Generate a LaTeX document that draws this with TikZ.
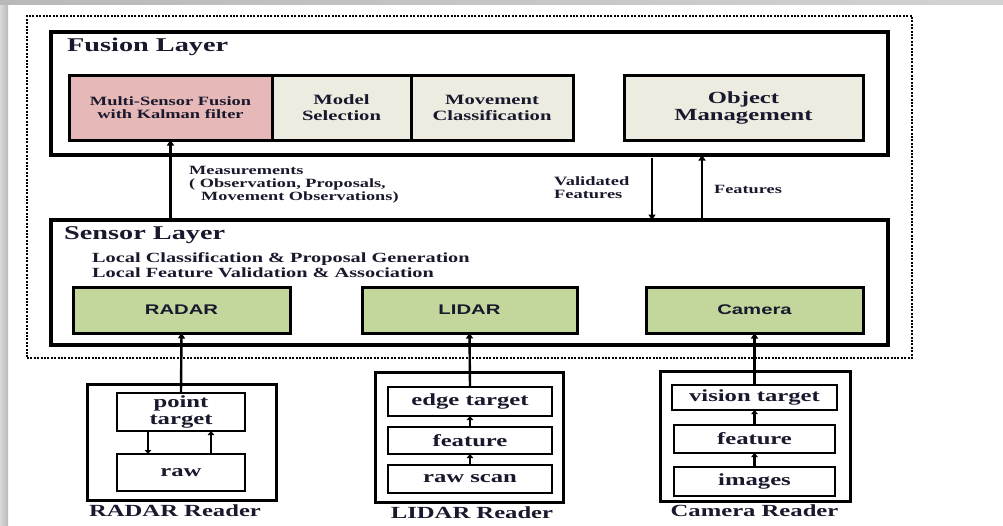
\documentclass[tikz,border=0pt]{standalone}
\usepackage{fontspec}
\setmainfont{Liberation Serif}[FakeStretch=1.45]
\setsansfont{Liberation Sans}[FakeStretch=1.45]
\usetikzlibrary{arrows.meta,calc}
\definecolor{pinkf}{RGB}{230,184,183}
\definecolor{beigef}{RGB}{238,236,225}
\definecolor{greenf}{RGB}{195,214,155}
\definecolor{txt}{RGB}{25,25,45}
\begin{document}
\begin{tikzpicture}[x=1pt,y=-1pt,
  layerbox/.style={draw, line width=3.2pt, inner sep=0pt, outer sep=0pt},
  fusbox/.style={draw, line width=3pt, inner sep=0pt, outer sep=0pt, text=txt, align=center, minimum height=65pt},
  sensbox/.style={draw, line width=3pt, inner sep=0pt, outer sep=0pt, fill=greenf, text=txt, font=\sffamily\bfseries\fontsize{14}{16}\selectfont, minimum height=46pt},
  readbox/.style={draw, line width=3pt, inner sep=0pt, outer sep=0pt},
  stagebox/.style={draw, line width=2.8pt, inner sep=0pt, outer sep=0pt, text=txt, align=center, font=\bfseries\fontsize{17}{17}\selectfont},
  lbl/.style={inner sep=0pt, text=txt, align=left},
  readlbl/.style={inner sep=0pt, text=txt, font=\bfseries\fontsize{17}{17}\selectfont},
  arr/.style={line width=2.4pt, -{Triangle[length=5.5pt,width=7pt]}},
  sarr/.style={line width=2.2pt, -{Triangle[length=4pt,width=6.5pt]}}
]
\useasboundingbox (0,0) rectangle (1003,525);
\fill[white] (0,0) rectangle (1003,525);
% screenshot shadow strips
\shade[left color=gray!30, right color=gray!55] (0,0) rectangle (8,525);
\shade[left color=gray!55, right color=gray!35] (0,0) rectangle (1003,4);

% outer dotted frame
\node[draw, line width=2.6pt, dash pattern=on 2pt off 1.4pt, inner sep=0pt, minimum width=885pt, minimum height=342pt] (outer) at (469.5,187) {};

% Fusion layer
\node[layerbox, minimum width=837pt, minimum height=123pt] (fusion) at (469.5,93.5) {};
\node[lbl, anchor=west, font=\bfseries\fontsize{19.5}{22}\selectfont] (fustitle) at (67,47) {Fusion Layer};
\node[fusbox, fill=pinkf, minimum width=203pt, font=\bfseries\fontsize{12.7}{13.5}\selectfont] (multi) at (170.5,107.5) {Multi-Sensor Fusion\\with Kalman filter};
\node[fusbox, fill=beigef, minimum width=139pt, font=\bfseries\fontsize{14.2}{16}\selectfont] (model) at (341.5,107.5) {Model\\Selection};
\node[fusbox, fill=beigef, minimum width=162pt, font=\bfseries\fontsize{14.2}{16}\selectfont] (movement) at (492,107.5) {Movement\\Classification};
\node[fusbox, fill=beigef, minimum width=239pt, font=\bfseries\fontsize{17}{17}\selectfont] (object) at (743.5,107.5) {Object\\Management};

% Sensor layer
\node[layerbox, minimum width=837pt, minimum height=125pt] (sensor) at (469.5,282.5) {};
\node[lbl, anchor=west, font=\bfseries\fontsize{19.5}{22}\selectfont] (senstitle) at (64,235) {Sensor Layer};
\node[lbl, anchor=west, font=\bfseries\fontsize{14}{14.5}\selectfont] (local) at (92,265) {Local Classification \& Proposal Generation\\Local Feature Validation \& Association};
\node[sensbox, minimum width=217pt] (radar) at (181.5,310) {RADAR};
\node[sensbox, minimum width=215pt] (lidar) at (469.5,310) {LIDAR};
\node[sensbox, minimum width=217pt] (camera) at (754.5,310) {Camera};

% links between layers
\draw[arr] (multi.south |- sensor.north) -- (multi.south);
\node[lbl, anchor=north west, font=\bfseries\fontsize{12.6}{13}\selectfont] (meas) at (189,166) {Measurements\\( Observation, Proposals,\\\hspace*{12pt}Movement Observations)};
\coordinate (vf) at (652,155);
\coordinate (ft) at (702,155);
\draw[arr] ($(fusion.south -| vf)+(0,3)$) -- (sensor.north -| vf);
\draw[arr] (sensor.north -| ft) -- (fusion.south -| ft);
\node[lbl, anchor=west, font=\bfseries\fontsize{12.7}{13}\selectfont] (valid) at (554,188) {Validated\\Features};
\node[lbl, anchor=west, font=\bfseries\fontsize{12.6}{13}\selectfont] (feat) at (714,189) {Features};

% RADAR reader
\node[readbox, minimum width=189pt, minimum height=116pt] (rr) at (181.5,442) {};
\node[stagebox, minimum width=128pt, minimum height=38pt] (pt) at (181,412) {point\\target};
\node[stagebox, minimum width=128pt, minimum height=37pt] (raw) at (181,472.5) {raw};
\node[readlbl] (rrl) at (175,511) {RADAR Reader};
\coordinate (rd) at (148,440);
\coordinate (ru) at (211,440);
\draw[sarr] (pt.south -| rd) -- (raw.north -| rd);
\draw[sarr] (raw.north -| ru) -- (pt.south -| ru);
\draw[arr] (pt.north) -- (radar.south);

% LIDAR reader
\node[readbox, minimum width=188pt, minimum height=130pt] (lr) at (469,437) {};
\node[stagebox, minimum width=164pt, minimum height=29pt] (edge) at (470,401.5) {edge target};
\node[stagebox, minimum width=164pt, minimum height=27pt] (lfeat) at (470,440.5) {feature};
\node[stagebox, minimum width=164pt, minimum height=28pt] (scan) at (470,479) {raw scan};
\node[readlbl] (lrl) at (472,513) {LIDAR Reader};
\draw[sarr] (scan.north) -- (lfeat.south);
\draw[sarr] (lfeat.north) -- (edge.south);
\draw[arr] (edge.north) -- (lidar.south);

% Camera reader
\node[readbox, minimum width=190pt, minimum height=130pt] (cr) at (755,436) {};
\node[stagebox, minimum width=165pt, minimum height=25pt] (vision) at (754.5,397.5) {vision target};
\node[stagebox, minimum width=161pt, minimum height=28pt] (cfeat) at (754.5,439) {feature};
\node[stagebox, minimum width=161pt, minimum height=29pt] (images) at (754.5,481.5) {images};
\node[readlbl] (crl) at (754.5,511) {Camera Reader};
\draw[sarr] (images.north) -- (cfeat.south);
\draw[sarr] (cfeat.north) -- (vision.south);
\draw[arr] (vision.north) -- (camera.south);
\end{tikzpicture}
\end{document}
